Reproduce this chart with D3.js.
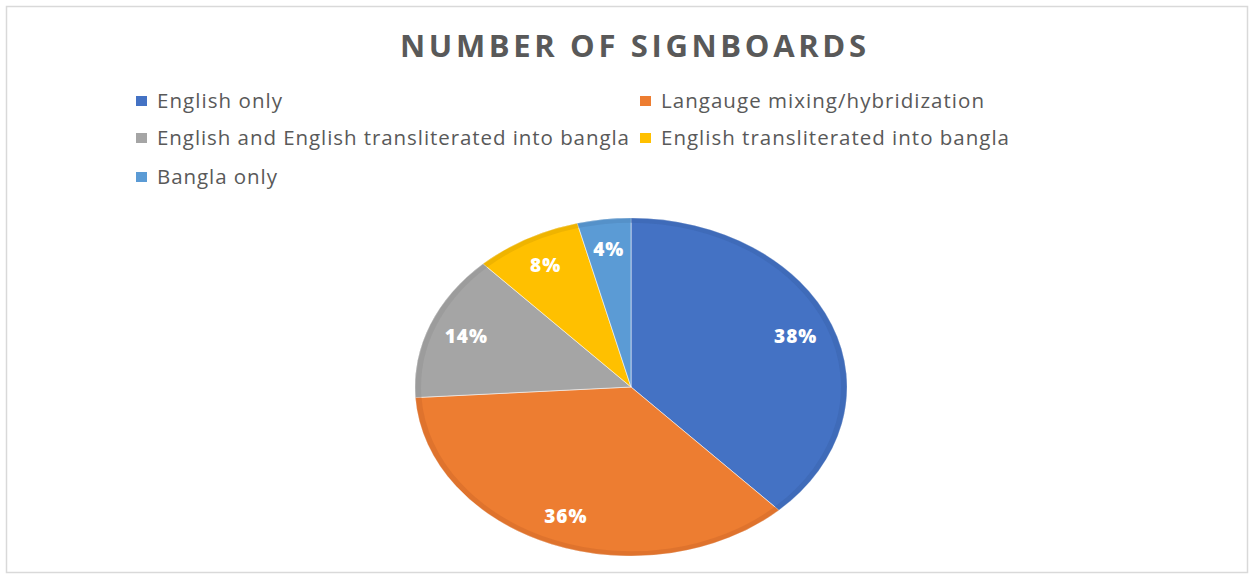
<!DOCTYPE html>
<html>
<head>
<meta charset="utf-8">
<script src="https://cdn.jsdelivr.net/npm/d3@7"></script>
<style>
  html, body { margin: 0; padding: 0; background: #ffffff; }
  svg { display: block; }
</style>
</head>
<body>
<svg id="chart" width="1250" height="576"></svg>
<script>
const categories = [
  "English only",
  "Langauge mixing/hybridization",
  "English and English transliterated into bangla",
  "English transliterated into bangla",
  "Bangla only"
];
const values = [38, 36, 14, 8, 4];
const colors = ["#4472C4", "#ED7D31", "#A5A5A5", "#FFC000", "#5B9BD5"];
const edgeColors = ["#3A63AE", "#D2692A", "#939393", "#E0A800", "#4F88BE"];
const titleText = "NUMBER OF SIGNBOARDS";

const svg = d3.select("#chart");
const FONT = "'Open Sans', 'Noto Sans', sans-serif";

// stretch text to a target width via letter-spacing
function fitWidth(sel, target) {
  const node = sel.node();
  const n = sel.text().length;
  const len = node.getComputedTextLength();
  sel.attr("letter-spacing", Math.max(0, (target - len) / (n - 1)));
}

// chart frame
svg.append("rect")
  .attr("x", 6.5).attr("y", 6.5)
  .attr("width", 1241).attr("height", 566)
  .attr("fill", "#ffffff")
  .attr("stroke", "#d9d9d9")
  .attr("stroke-width", 1.5);

// title
const title = svg.append("text")
  .attr("x", 400).attr("y", 57)
  .attr("font-family", FONT)
  .attr("font-weight", 700)
  .attr("font-size", 31)
  .attr("fill", "#595959")
  .text(titleText);
fitWidth(title, 466);

// legend
const legendPos = [
  {x: 136, y: 101, w: 125}, {x: 640, y: 101, w: 323},
  {x: 136, y: 138, w: 472}, {x: 640, y: 138, w: 348},
  {x: 136, y: 177, w: 120}
];
const legend = svg.append("g");
categories.forEach((c, i) => {
  const p = legendPos[i];
  legend.append("rect")
    .attr("x", p.x).attr("y", p.y - 5)
    .attr("width", 11).attr("height", 10)
    .attr("fill", colors[i]);
  const t = legend.append("text")
    .attr("x", p.x + 21).attr("y", p.y)
    .attr("dy", "0.36em")
    .attr("font-family", FONT)
    .attr("font-size", 20.5)
    .attr("fill", "#595959")
    .text(c);
  fitWidth(t, p.w);
});

// pie (elliptical)
const cx = 631, cy = 387, rx = 216, ry = 169;
const pie = d3.pie().sort(null).value(d => d)(values);
const arc = d3.arc().innerRadius(0).outerRadius(rx);
const rim = d3.arc().innerRadius(rx - 6).outerRadius(rx);
const labelArc = d3.arc().innerRadius(rx * 0.82).outerRadius(rx * 0.82);

const g = svg.append("g")
  .attr("transform", `translate(${cx},${cy}) scale(1,${ry / rx})`);

g.selectAll("path.slice")
  .data(pie)
  .join("path")
  .attr("class", "slice")
  .attr("d", arc)
  .attr("fill", (d, i) => colors[i])
  .attr("stroke", "#ffffff")
  .attr("stroke-width", 0.6);

g.selectAll("path.rim")
  .data(pie)
  .join("path")
  .attr("class", "rim")
  .attr("d", rim)
  .attr("fill", (d, i) => edgeColors[i])
  .attr("opacity", 0.5);

// labels
svg.selectAll("text.lbl")
  .data(pie)
  .join("text")
  .attr("class", "lbl")
  .attr("x", d => cx + labelArc.centroid(d)[0])
  .attr("y", d => cy + labelArc.centroid(d)[1] * ry / rx)
  .attr("dy", "0.36em")
  .attr("text-anchor", "middle")
  .attr("font-family", FONT)
  .attr("font-weight", 800)
  .attr("font-size", 19)
  .attr("letter-spacing", 1)
  .attr("fill", "#ffffff")
  .text(d => d.data + "%");
</script>
</body>
</html>
